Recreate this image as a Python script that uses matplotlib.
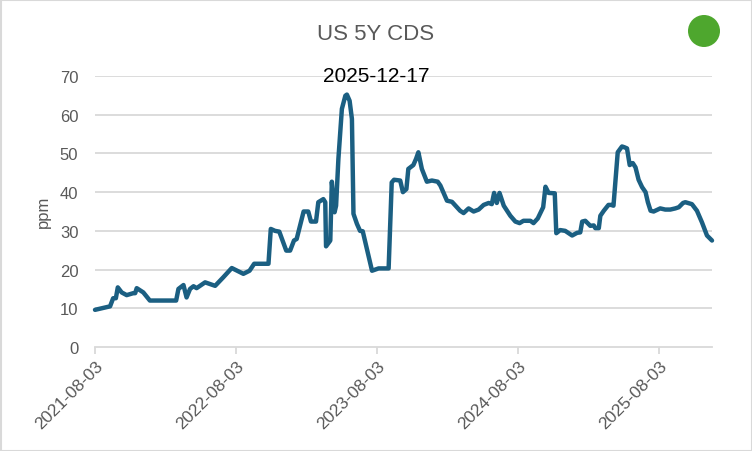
import matplotlib
matplotlib.use("Agg")
import matplotlib.pyplot as plt
import pandas as pd
from matplotlib.patches import Circle, Rectangle
from matplotlib.transforms import IdentityTransform

plt.rcParams['font.family'] = ['Liberation Sans', 'DejaVu Sans']

dates = [
    "2021-08-03", "2021-08-20", "2021-09-11", "2021-09-19", "2021-09-26", "2021-10-01",
    "2021-10-11", "2021-10-24", "2021-11-10", "2021-11-15", "2021-11-19", "2021-12-06",
    "2021-12-23", "2022-03-01", "2022-03-07", "2022-03-20", "2022-03-28", "2022-04-06",
    "2022-04-15", "2022-04-23", "2022-05-15", "2022-06-10", "2022-07-01", "2022-07-23",
    "2022-08-22", "2022-09-07", "2022-09-19", "2022-10-26", "2022-11-01", "2022-11-12",
    "2022-11-23", "2022-12-11", "2022-12-21", "2022-12-31", "2023-01-07", "2023-01-25",
    "2023-02-06", "2023-02-13", "2023-02-26", "2023-03-04", "2023-03-17", "2023-03-22",
    "2023-03-24", "2023-04-04", "2023-04-08", "2023-04-15", "2023-04-19", "2023-04-25",
    "2023-05-04", "2023-05-13", "2023-05-17", "2023-05-24", "2023-05-30", "2023-06-03",
    "2023-06-12", "2023-06-20", "2023-06-27", "2023-07-21", "2023-08-07", "2023-09-02",
    "2023-09-10", "2023-09-16", "2023-10-02", "2023-10-09", "2023-10-18", "2023-10-23",
    "2023-11-05", "2023-11-12", "2023-11-18", "2023-11-27", "2023-12-10", "2023-12-23",
    "2024-01-07", "2024-01-14", "2024-01-31", "2024-02-13", "2024-03-05", "2024-03-14",
    "2024-03-27", "2024-04-09", "2024-04-22", "2024-05-05", "2024-05-18", "2024-05-26",
    "2024-06-01", "2024-06-08", "2024-06-15", "2024-06-26", "2024-07-13", "2024-07-26",
    "2024-08-06", "2024-08-16", "2024-09-03", "2024-09-11", "2024-09-22", "2024-10-06",
    "2024-10-12", "2024-10-20", "2024-11-05", "2024-11-09", "2024-11-19", "2024-12-02",
    "2024-12-20", "2025-01-02", "2025-01-10", "2025-01-15", "2025-01-23", "2025-02-05",
    "2025-02-14", "2025-02-18", "2025-02-27", "2025-03-03", "2025-03-12", "2025-03-24",
    "2025-03-31", "2025-04-06", "2025-04-17", "2025-04-28", "2025-05-04", "2025-05-11",
    "2025-05-18", "2025-05-26", "2025-06-02", "2025-06-10", "2025-06-19", "2025-06-28",
    "2025-07-04", "2025-07-11", "2025-07-19", "2025-08-05", "2025-08-18", "2025-08-31",
    "2025-09-13", "2025-09-22", "2025-10-03", "2025-10-09", "2025-10-26", "2025-11-08",
    "2025-11-21", "2025-12-04", "2025-12-17",
]
values = [
    9.6, 10.0, 10.5, 12.6, 12.6, 15.4,
    14.1, 13.4, 13.9, 13.9, 15.2, 14.1,
    12.0, 12.0, 15.0, 16.0, 12.8, 15.0,
    15.7, 15.2, 16.7, 15.8, 18.0, 20.4,
    18.9, 19.7, 21.5, 21.5, 30.5, 30.0,
    29.8, 24.9, 24.9, 27.5, 27.9, 35.0,
    35.0, 32.4, 32.4, 37.4, 38.2, 37.4,
    26.0, 27.5, 42.7, 34.8, 36.5, 48.6,
    61.5, 64.9, 65.2, 63.6, 58.9, 34.4,
    31.8, 30.0, 29.9, 19.7, 20.3, 20.3,
    42.5, 43.2, 43.0, 40.0, 40.8, 46.0,
    47.0, 48.6, 50.3, 46.0, 42.7, 43.0,
    42.7, 41.7, 37.8, 37.5, 35.2, 34.6,
    35.8, 35.0, 35.5, 36.7, 37.2, 36.9,
    39.8, 37.2, 39.8, 36.5, 33.9, 32.4,
    32.0, 32.6, 32.6, 32.0, 33.2, 36.1,
    41.4, 39.8, 39.7, 29.4, 30.2, 30.0,
    28.8, 29.5, 29.6, 32.4, 32.6, 31.3,
    31.4, 30.7, 30.7, 33.9, 35.2, 36.7,
    36.7, 36.5, 50.3, 51.8, 51.6, 51.3,
    47.0, 47.5, 46.4, 43.2, 41.3, 40.0,
    37.4, 35.2, 35.0, 35.8, 35.5, 35.5,
    35.8, 36.1, 37.2, 37.4, 36.9, 35.2,
    32.2, 28.8, 27.5,
]
x_ticks = ["2021-08-03", "2022-08-03", "2023-08-03", "2024-08-03", "2025-08-03"]
y_ticks = [0, 10, 20, 30, 40, 50, 60, 70]
title = "US 5Y CDS"
date_label = "2025-12-17"
y_label = "ppm"

dt = pd.to_datetime(dates)
xt = pd.to_datetime(x_ticks)

W, H = 752, 452
fig = plt.figure(figsize=(W/100, H/100), dpi=100)
ax = fig.add_axes([95/W, 1-348/H, (712-95)/W, (348-77)/H])

grid_c = "#D9D9D9"
text_c = "#595959"

for y in y_ticks[1:]:
    ax.axhline(y, color=grid_c, lw=1.3, zorder=1)

ax.plot(dt, values, color="#1B5F82", lw=3.2, solid_joinstyle="round",
        solid_capstyle="round", zorder=3, clip_on=False)

ax.set_xlim(dt[0], dt[-1])
ax.set_ylim(0, 70)
ax.set_yticks(y_ticks)
ax.set_xticks(xt)
ax.set_xticklabels(x_ticks, rotation=45, ha="right", va="top", rotation_mode="anchor")

for s in ["top", "right", "left"]:
    ax.spines[s].set_visible(False)
ax.spines["bottom"].set_color(grid_c)
ax.spines["bottom"].set_linewidth(1.3)

ax.tick_params(axis="y", length=0, pad=12, labelsize=12, labelcolor=text_c)
ax.tick_params(axis="x", length=5, width=1.3, color=grid_c, pad=3, labelsize=12.5, labelcolor=text_c)

fig.text(43/W, 1-212/H, y_label, rotation=90, ha="center", va="center", fontsize=12, color=text_c)
fig.text(0.5, 1-34/H, title, ha="center", va="center", fontsize=16, color=text_c)
fig.text(0.5, 1-77/H, date_label, ha="center", va="center", fontsize=15, color="black")

circ = Circle((704, H-32), 16, transform=IdentityTransform(), facecolor="#4EA72E", edgecolor="none")
fig.patches.append(circ)

fig.patches.append(Rectangle((0.5/W, 0.5/H), 1-1/W, 1-1/H, transform=fig.transFigure,
                             fill=False, edgecolor=grid_c, lw=1.5))

fig.savefig("out.png", dpi=100)
